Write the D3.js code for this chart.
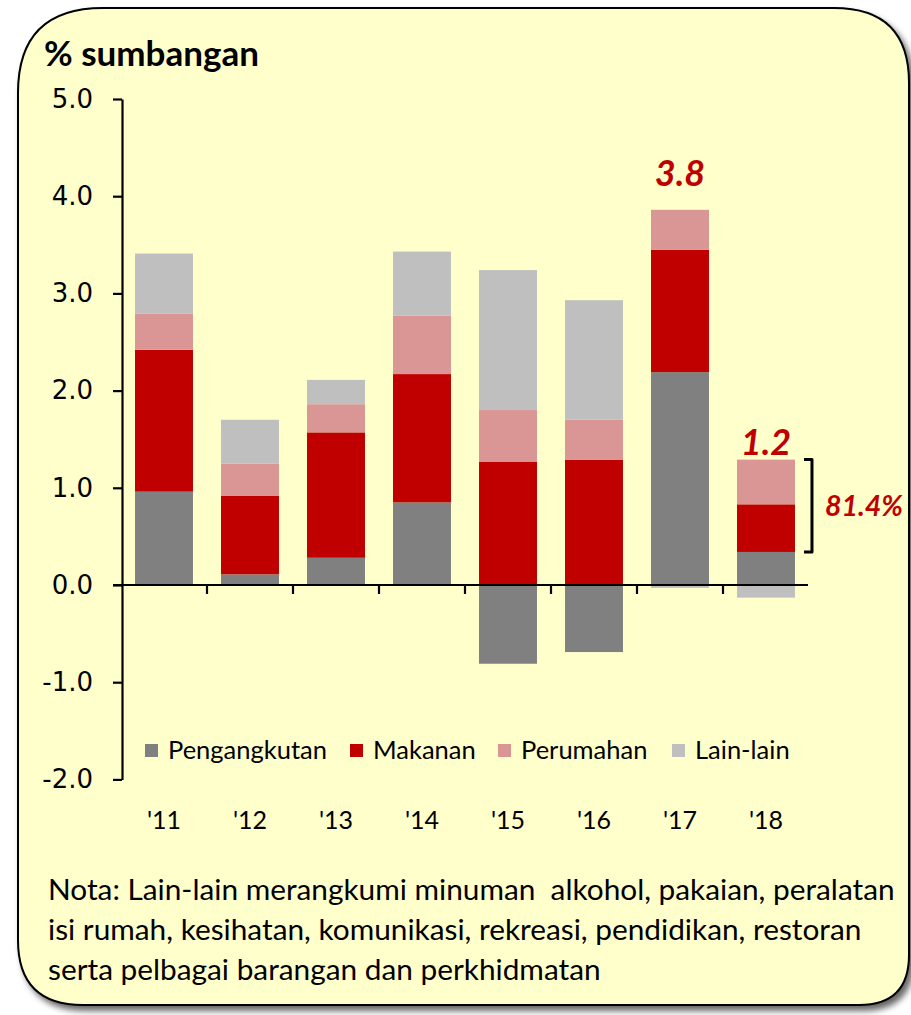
<!DOCTYPE html>
<html>
<head>
<meta charset="utf-8">
<script src="https://cdn.jsdelivr.net/npm/d3@7"></script>
<style>
  html, body { margin: 0; padding: 0; background: #ffffff; }
  svg { display: block; }
  text { white-space: pre; }
</style>
</head>
<body>
<svg id="chart" width="911" height="1015"></svg>
<script>
// Contribution (% points) by component, yearly
const categories = ["'11", "'12", "'13", "'14", "'15", "'16", "'17", "'18"];
const pengangkutan = [0.96, 0.11, 0.28, 0.85, -0.81, -0.69, 2.19, 0.34];
const makanan      = [1.46, 0.81, 1.29, 1.32, 1.27, 1.29, 1.26, 0.49];
const perumahan    = [0.37, 0.33, 0.29, 0.60, 0.53, 0.41, 0.41, 0.46];
const lainLain     = [0.62, 0.45, 0.25, 0.66, 1.44, 1.23, -0.03, -0.13];

const seriesNames = ["Pengangkutan", "Makanan", "Perumahan", "Lain-lain"];
const seriesColors = ["#808080", "#C00000", "#DA9694", "#BFBFBF"];
const yTicks = [-2, -1, 0, 1, 2, 3, 4, 5];
const shareLabel = "81.4%";
const noteLines = [
  "Nota: Lain-lain merangkumi minuman  alkohol, pakaian, peralatan",
  "isi rumah, kesihatan, komunikasi, rekreasi, pendidikan, restoran",
  "serta pelbagai barangan dan perkhidmatan"
];

const seriesValues = [pengangkutan, makanan, perumahan, lainLain];
const rows = categories.map((c, i) => {
  const r = { year: c };
  seriesNames.forEach((s, k) => { r[s] = seriesValues[k][i]; });
  return r;
});

const svg = d3.select("#chart");
const labelFont = "Lato, 'Open Sans', sans-serif";

// ---- Panel: rounded card with drop shadow ----
const defs = svg.append("defs");
const shadow = defs.append("filter").attr("id", "shadow")
  .attr("x", "-5%").attr("y", "-5%").attr("width", "115%").attr("height", "115%");
shadow.append("feGaussianBlur").attr("in", "SourceAlpha").attr("stdDeviation", 3);
shadow.append("feOffset").attr("dx", 4).attr("dy", 5).attr("result", "off");
shadow.append("feComponentTransfer").append("feFuncA").attr("type", "linear").attr("slope", 0.6);
const merge = shadow.append("feMerge");
merge.append("feMergeNode");
merge.append("feMergeNode").attr("in", "SourceGraphic");

function cardPath(x0, y0, x1, y1, rTL, rTR, rBR, rBL) {
  const p = d3.path();
  p.moveTo(x0 + rTL, y0);
  p.lineTo(x1 - rTR, y0);
  p.quadraticCurveTo(x1, y0, x1, y0 + rTR);
  p.lineTo(x1, y1 - rBR);
  p.quadraticCurveTo(x1, y1, x1 - rBR, y1);
  p.lineTo(x0 + rBL, y1);
  p.quadraticCurveTo(x0, y1, x0, y1 - rBL);
  p.lineTo(x0, y0 + rTL);
  p.quadraticCurveTo(x0, y0, x0 + rTL, y0);
  p.closePath();
  return p.toString();
}
svg.append("path")
  .attr("d", cardPath(18, 8, 909, 1005, 85, 75, 50, 65))
  .attr("fill", "#FFFFCC")
  .attr("stroke", "#000")
  .attr("stroke-width", 2)
  .attr("filter", "url(#shadow)");

// ---- Title ----
svg.append("text")
  .attr("x", 44).attr("y", 66)
  .attr("font-family", labelFont)
  .attr("font-weight", 700)
  .attr("font-size", 35)
  .attr("fill", "#000")
  .text("% sumbangan");

// ---- Scales ----
const y = d3.scaleLinear().domain([-2, 5]).range([779.4, 99]);
const x = d3.scaleBand().domain(categories).range([121, 809])
  .paddingInner(0.326).paddingOuter(0.163);

// ---- Stacked bars (positive and negative parts stacked separately) ----
const stack = d3.stack().keys(seriesNames).offset(d3.stackOffsetDiverging);
const layers = stack(rows);

svg.append("g").selectAll("g")
  .data(layers)
  .join("g")
  .attr("fill", (d, i) => seriesColors[i])
  .selectAll("rect")
  .data(d => d)
  .join("rect")
  .attr("x", d => x(d.data.year))
  .attr("width", x.bandwidth())
  .attr("y", d => y(Math.max(d[0], d[1])))
  .attr("height", d => Math.abs(y(d[0]) - y(d[1])));

// ---- Y axis ----
const yAxis = svg.append("g")
  .attr("transform", `translate(${x.range()[0] + 1},0)`)
  .call(d3.axisLeft(y).tickValues(yTicks).tickFormat(d => d.toFixed(1))
    .tickSize(9).tickSizeOuter(0).tickPadding(20));
yAxis.select(".domain").attr("stroke", "#000").attr("stroke-width", 2.2);
yAxis.selectAll(".tick line").attr("stroke", "#000").attr("stroke-width", 2.2);
yAxis.selectAll(".tick text")
  .attr("font-family", "'DejaVu Sans', Verdana, sans-serif")
  .attr("font-size", 26)
  .attr("fill", "#000");

// ---- Zero line with category separators ----
const zeroG = svg.append("g");
zeroG.append("line")
  .attr("x1", x.range()[0] - 8).attr("x2", x.range()[1] - 1)
  .attr("y1", y(0)).attr("y2", y(0))
  .attr("stroke", "#000").attr("stroke-width", 2.2);
const boundaries = categories.slice(1).map(c => x(c) - x.step() * x.paddingInner() / 2);
zeroG.selectAll("line.sep")
  .data(boundaries)
  .join("line")
  .attr("class", "sep")
  .attr("x1", d => d).attr("x2", d => d)
  .attr("y1", y(0)).attr("y2", y(0) + 9)
  .attr("stroke", "#000").attr("stroke-width", 2.2);

// ---- Category labels ----
svg.append("g").selectAll("text")
  .data(categories)
  .join("text")
  .attr("x", d => x(d) + x.bandwidth() / 2)
  .attr("y", 829)
  .attr("text-anchor", "middle")
  .attr("font-family", labelFont)
  .attr("font-size", 25)
  .attr("fill", "#000")
  .text(d => d);

// ---- Legend ----
const legendX = [145, 350, 498, 672];
const legend = svg.append("g").selectAll("g")
  .data(seriesNames)
  .join("g")
  .attr("transform", (d, i) => `translate(${legendX[i]},744)`);
legend.append("rect")
  .attr("width", 13).attr("height", 13)
  .attr("fill", (d, i) => seriesColors[i]);
legend.append("text")
  .attr("x", 23).attr("y", 15)
  .attr("font-family", labelFont)
  .attr("font-size", 25.5)
  .attr("fill", "#000")
  .text(d => d);

// ---- Totals above '17 and '18, share bracket for '18 ----
const totals = rows.map(r => d3.sum(seriesNames, s => r[s]));
const topOf = i => d3.max(layers, l => Math.max(l[i][0], l[i][1]));
const annot = svg.append("g")
  .attr("font-family", labelFont)
  .attr("font-weight", 700)
  .attr("font-style", "italic")
  .attr("fill", "#C00000");
const i17 = 6, i18 = 7;
annot.append("text")
  .attr("x", x(categories[i17]) + x.bandwidth() / 2)
  .attr("y", y(topOf(i17)) - 24)
  .attr("text-anchor", "middle")
  .attr("font-size", 36)
  .text(totals[i17].toFixed(1));
annot.append("text")
  .attr("x", x(categories[i18]) + x.bandwidth() / 2)
  .attr("y", y(topOf(i18)) - 5)
  .attr("text-anchor", "middle")
  .attr("font-size", 36)
  .text(totals[i18].toFixed(1));

const bTop = y(pengangkutan[i18] + makanan[i18] + perumahan[i18]);
const bBot = y(pengangkutan[i18]);
const bx0 = x(categories[i18]) + x.bandwidth() + 9;
const bx1 = bx0 + 8;
svg.append("path")
  .attr("d", `M${bx0},${bTop} L${bx1},${bTop} L${bx1},${bBot} L${bx0},${bBot}`)
  .attr("fill", "none")
  .attr("stroke", "#000")
  .attr("stroke-width", 3)
  .attr("stroke-linejoin", "round");
annot.append("text")
  .attr("x", bx1 + 13)
  .attr("y", (bTop + bBot) / 2 + 10)
  .attr("font-size", 28.5)
  .text(shareLabel);

// ---- Note ----
svg.append("g").selectAll("text")
  .data(noteLines)
  .join("text")
  .attr("x", 48)
  .attr("y", (d, i) => 900 + i * 40)
  .attr("font-family", labelFont)
  .attr("font-size", 29.8)
  .attr("fill", "#000")
  .text(d => d);
</script>
</body>
</html>
